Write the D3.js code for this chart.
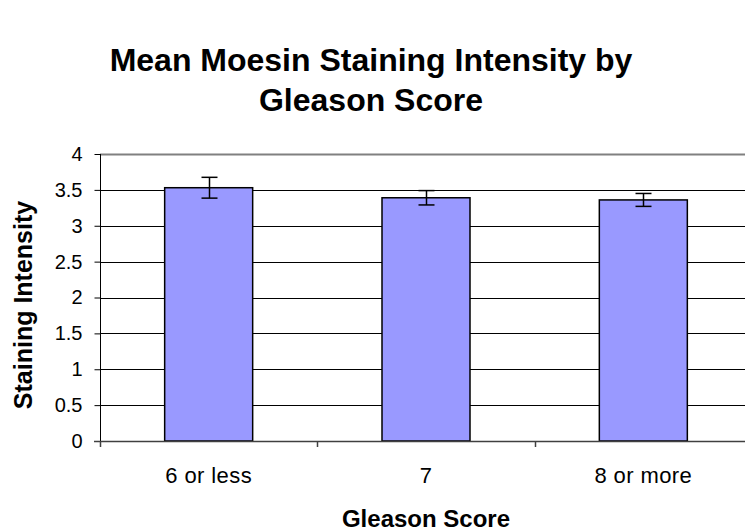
<!DOCTYPE html>
<html>
<head>
<meta charset="utf-8">
<script src="https://cdn.jsdelivr.net/npm/d3@7"></script>
<style>
    body { margin: 0; background: #fff; }
    svg { display: block; font-family: "Liberation Sans", Arial, sans-serif; }
</style>
</head>
<body>
<script>
const categories = ["6 or less", "7", "8 or more"];
const means = [3.53, 3.39, 3.36];
const errors = [0.145, 0.1, 0.09];
const yTicks = [0, 0.5, 1, 1.5, 2, 2.5, 3, 3.5, 4];

const width = 745, height = 532;
const plotLeft = 100, plotRight = 752, plotTop = 154, plotBottom = 441;

let svg = d3.select("body").append("svg")
    .attr("width", width)
    .attr("height", height);

let x = d3.scaleBand()
    .domain(categories)
    .range([plotLeft, plotRight])
    .paddingInner(0)
    .paddingOuter(0);

let y = d3.scaleLinear()
    .domain([0, 4])
    .range([plotBottom, plotTop]);

// gridlines
svg.append("g")
    .selectAll("line")
    .data(yTicks.filter(t => t > 0))
    .enter().append("line")
    .attr("x1", plotLeft).attr("x2", plotRight)
    .attr("y1", d => Math.round(y(d)) + 0.5)
    .attr("y2", d => Math.round(y(d)) + 0.5)
    .attr("stroke", d => d === 4 ? "#808080" : "#000")
    .attr("stroke-width", d => d === 4 ? 2 : 1);

// bars
const bw = 88;
svg.append("g")
    .selectAll("rect")
    .data(means)
    .enter().append("rect")
    .attr("x", (d, i) => x(categories[i]) + x.bandwidth() / 2 - bw / 2)
    .attr("y", d => y(d))
    .attr("width", bw)
    .attr("height", d => plotBottom - y(d))
    .style("fill", "#9999ff")
    .style("stroke", "#000")
    .style("stroke-width", 1.5);

// error bars
let eb = svg.append("g").attr("stroke", "#000").attr("stroke-width", 1.5);
means.forEach((m, i) => {
    const cx = Math.round(x(categories[i]) + x.bandwidth() / 2) + 0.5;
    const y1 = y(m + errors[i]), y2 = y(m - errors[i]);
    eb.append("line").attr("x1", cx).attr("x2", cx).attr("y1", y1).attr("y2", y2);
    eb.append("line").attr("x1", cx - 8).attr("x2", cx + 8).attr("y1", y1).attr("y2", y1);
    eb.append("line").attr("x1", cx - 8).attr("x2", cx + 8).attr("y1", y2).attr("y2", y2);
});

// y axis
let yAxis = svg.append("g")
    .attr("transform", "translate(" + (plotLeft + 0.5) + ",0)")
    .call(d3.axisLeft(y).tickValues(yTicks).tickSize(6).tickPadding(12)
        .tickFormat(d => String(d)));
yAxis.select(".domain").attr("stroke", "#000").attr("d", "M0," + plotTop + "V" + plotBottom);
yAxis.selectAll(".tick line").attr("stroke", "#000");
yAxis.selectAll("text").style("font-size", "20px").attr("fill", "#000");

// x axis
let xAxis = svg.append("g")
    .attr("transform", "translate(0," + (plotBottom + 0.5) + ")")
    .call(d3.axisBottom(x).tickSize(0).tickPadding(0));
xAxis.select(".domain").attr("stroke", "#404040").attr("stroke-width", 1.5)
    .attr("d", "M" + (plotLeft - 6) + ",0H" + plotRight);
xAxis.selectAll("text")
    .attr("y", 41).attr("dy", 0)
    .style("font-size", "22px")
    .style("letter-spacing", "0.4px")
    .attr("fill", "#000");
svg.append("g")
    .selectAll("line")
    .data(categories)
    .enter().append("line")
    .attr("x1", d => Math.round(x(d)) + 0.5)
    .attr("x2", d => Math.round(x(d)) + 0.5)
    .attr("y1", plotBottom)
    .attr("y2", plotBottom + 6)
    .attr("stroke", "#404040")
    .attr("stroke-width", 1.5);

// titles
const title = ["Mean Moesin Staining Intensity by", "Gleason Score"];
svg.append("g")
    .selectAll("text")
    .data(title)
    .enter().append("text")
    .attr("x", 371)
    .attr("y", (d, i) => 71 + i * 40)
    .attr("text-anchor", "middle")
    .style("font-size", "32px")
    .style("font-weight", "bold")
    .text(d => d);

svg.append("text")
    .attr("x", 426)
    .attr("y", 527)
    .attr("text-anchor", "middle")
    .style("font-size", "24px")
    .style("font-weight", "bold")
    .text("Gleason Score");

svg.append("text")
    .attr("transform", "translate(32,305) rotate(-90)")
    .attr("text-anchor", "middle")
    .style("font-size", "25px")
    .style("font-weight", "bold")
    .text("Staining Intensity");
</script>
</body>
</html>
